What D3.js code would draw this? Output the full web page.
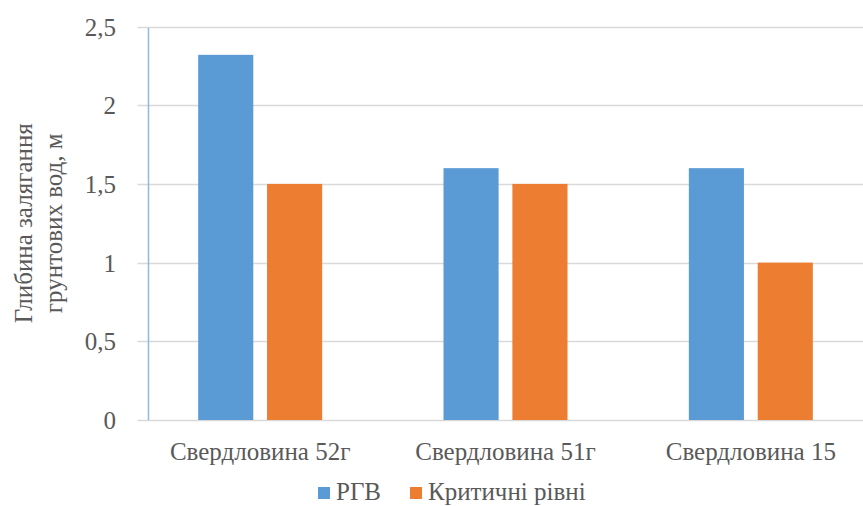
<!DOCTYPE html>
<html>
<head>
<meta charset="utf-8">
<script src="https://cdn.jsdelivr.net/npm/d3@7"></script>
<style>
  html, body { margin: 0; padding: 0; background: #fff; }
  svg { display: block; }
</style>
</head>
<body>
<svg id="chart" width="863" height="506"></svg>
<script>
// Groundwater depth per borehole vs. critical levels
const categories = ["Свердловина 52г", "Свердловина 51г", "Свердловина 15"];
const seriesNames = ["РГВ", "Критичні рівні"];
const rgvValues = [2.32, 1.6, 1.6];
const criticalValues = [1.5, 1.5, 1.0];
const yTicks = [0, 0.5, 1, 1.5, 2, 2.5];
const yTickLabels = ["0", "0,5", "1", "1,5", "2", "2,5"];
const colors = ["#5b9bd5", "#ed7d31"];
const yTitleLines = ["Глибина залягання", "грунтових вод, м"];

const W = 863, H = 506;
const FONT = '"Liberation Serif", "Times New Roman", serif';
const TEXT_COLOR = "#595959";
// The plot area runs past the right edge of the canvas; the last band is clipped by the viewport
const plot = { left: 137.5, right: 873.5, top: 26.5, bottom: 420 };
const groupWidth = 124;

const svg = d3.select("#chart");

const x0 = d3.scaleBand()
  .domain(categories)
  .range([plot.left, plot.right])
  .paddingInner(0)
  .paddingOuter(0);

const x1 = d3.scaleBand()
  .domain(seriesNames)
  .range([0, groupWidth])
  .paddingInner(0.2)
  .paddingOuter(0);

const y = d3.scaleLinear().domain([0, 2.5]).range([plot.bottom, plot.top]);

function styleText(sel, size) {
  sel.style("font-family", FONT)
    .style("font-size", size + "px")
    .style("fill", TEXT_COLOR);
}

// Gridlines
svg.append("g")
  .selectAll("line")
  .data(yTicks)
  .join("line")
  .attr("x1", plot.left)
  .attr("x2", W)
  .attr("y1", d => Math.round(y(d)) + 0.5)
  .attr("y2", d => Math.round(y(d)) + 0.5)
  .attr("stroke", "#d9d9d9")
  .attr("stroke-width", 1.3);

// Y tick labels
const yAxis = d3.axisLeft(y)
  .tickValues(yTicks)
  .tickFormat((d, i) => yTickLabels[i])
  .tickSize(0)
  .tickPadding(0);
const yg = svg.append("g")
  .attr("transform", "translate(116,0)")
  .call(yAxis);
yg.select(".domain").remove();
yg.selectAll("text").call(styleText, 25).attr("dy", "0.34em");

// Bars
const rows = categories.map((c, i) => ({ cat: c, vals: [rgvValues[i], criticalValues[i]] }));
const groups = svg.append("g")
  .selectAll("g")
  .data(rows)
  .join("g")
  .attr("transform", d => `translate(${x0(d.cat) + (x0.bandwidth() - groupWidth) / 2},0)`);

groups.selectAll("rect")
  .data(d => d.vals.map((v, j) => ({ name: seriesNames[j], v, j })))
  .join("rect")
  .attr("x", d => x1(d.name))
  .attr("width", x1.bandwidth())
  .attr("y", d => y(d.v))
  .attr("height", d => y(0) - y(d.v))
  .attr("fill", d => colors[d.j]);

// Vertical axis line
svg.append("line")
  .attr("x1", 148.5).attr("x2", 148.5)
  .attr("y1", 28).attr("y2", y(0))
  .attr("stroke", "#8fb8e3")
  .attr("stroke-width", 1.5);

// Category labels
const xAxis = d3.axisBottom(x0).tickSize(0).tickPadding(0);
const xg = svg.append("g")
  .attr("transform", `translate(0,${y(0)})`)
  .call(xAxis);
xg.select(".domain").remove();
xg.selectAll("text").call(styleText, 25).attr("dy", null).attr("y", 40);

// Y axis title
const yt = svg.append("text")
  .attr("transform", `translate(0,${(plot.top + plot.bottom) / 2}) rotate(-90)`)
  .attr("text-anchor", "middle")
  .call(styleText, 25);
yt.selectAll("tspan")
  .data(yTitleLines)
  .join("tspan")
  .attr("x", 0)
  .attr("y", (d, i) => 32 + i * 30)
  .text(d => d);

// Legend
const legendX = [318, 410];
const items = svg.append("g")
  .selectAll("g")
  .data(seriesNames)
  .join("g")
  .attr("transform", (d, i) => `translate(${legendX[i]},487)`);
items.append("rect")
  .attr("width", 12).attr("height", 12)
  .attr("fill", (d, i) => colors[i]);
items.append("text")
  .attr("x", 18)
  .attr("y", 13)
  .call(styleText, 25)
  .text(d => d);
</script>
</body>
</html>
